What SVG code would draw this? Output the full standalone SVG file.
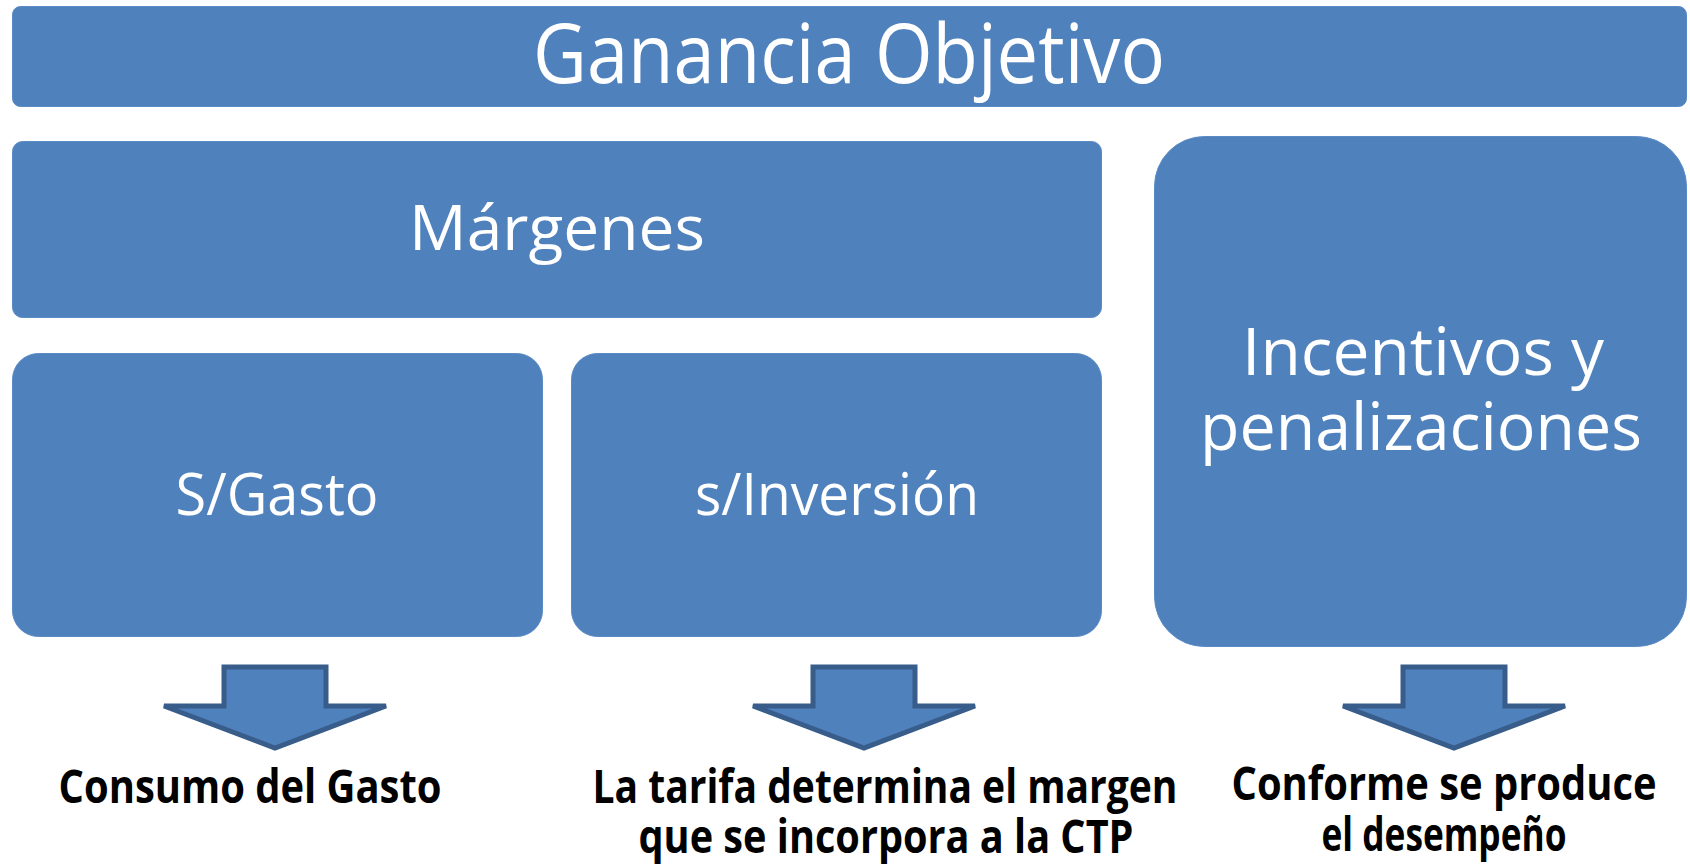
<svg xmlns="http://www.w3.org/2000/svg" xmlns:xlink="http://www.w3.org/1999/xlink" width="1690" height="866" viewBox="0 0 1690 866">
<style>
.box{fill:#4F81BD;stroke:#5B8BC4;stroke-width:1}
.wt{font-family:"Open Sans","Liberation Sans",sans-serif;fill:#FFFFFF;text-anchor:middle}
.bt{font-family:"Open Sans","Liberation Sans",sans-serif;font-weight:bold;fill:#000000;text-anchor:middle;font-size:46px}
.arr{fill:#4F81BD;stroke:#385D8A;stroke-width:5;stroke-linejoin:miter}
</style>
<defs>
<polygon id="blockArrow" points="-51,0 51,0 51,39 111,39 0,81 -111,39 -51,39"/>
</defs>
<rect width="1690" height="866" fill="#FFFFFF"/>
<g id="ganancia">
<rect class="box" x="12.5" y="6.5" width="1674" height="100" rx="8"/>
<text class="wt" x="849" y="83" font-size="82" textLength="632" lengthAdjust="spacingAndGlyphs">Ganancia Objetivo</text>
</g>
<g id="margenes">
<rect class="box" x="12.5" y="141.5" width="1089" height="176" rx="10"/>
<text class="wt" x="557" y="250" font-size="63" textLength="296" lengthAdjust="spacingAndGlyphs">Márgenes</text>
</g>
<g id="sgasto">
<rect class="box" x="12.5" y="353.5" width="530" height="283" rx="26"/>
<text class="wt" x="277" y="515" font-size="58" textLength="203" lengthAdjust="spacingAndGlyphs">S/Gasto</text>
</g>
<g id="sinversion">
<rect class="box" x="571.5" y="353.5" width="530" height="283" rx="26"/>
<text class="wt" x="837" y="515" font-size="58" textLength="284" lengthAdjust="spacingAndGlyphs">s/Inversión</text>
</g>
<g id="incentivos">
<rect class="box" x="1154.5" y="136.5" width="532" height="510" rx="50"/>
<text class="wt" x="1423" y="375" font-size="66" textLength="362" lengthAdjust="spacingAndGlyphs">Incentivos y</text>
<text class="wt" x="1421" y="450" font-size="66" textLength="442" lengthAdjust="spacingAndGlyphs">penalizaciones</text>
</g>
<g id="connectors">
<use xlink:href="#blockArrow" class="arr" x="275" y="667"/>
<use xlink:href="#blockArrow" class="arr" x="864" y="667"/>
<use xlink:href="#blockArrow" class="arr" x="1454" y="667"/>
</g>
<g id="labels">
<text class="bt" x="250" y="803" textLength="383" lengthAdjust="spacingAndGlyphs">Consumo del Gasto</text>
<text class="bt" x="885" y="803" textLength="585" lengthAdjust="spacingAndGlyphs">La tarifa determina el margen</text>
<text class="bt" x="886" y="853" textLength="495" lengthAdjust="spacingAndGlyphs">que se incorpora a la CTP</text>
<text class="bt" x="1444" y="800" textLength="425" lengthAdjust="spacingAndGlyphs">Conforme se produce</text>
<text class="bt" x="1444" y="851" textLength="245" lengthAdjust="spacingAndGlyphs">el desempeño</text>
</g>
</svg>
